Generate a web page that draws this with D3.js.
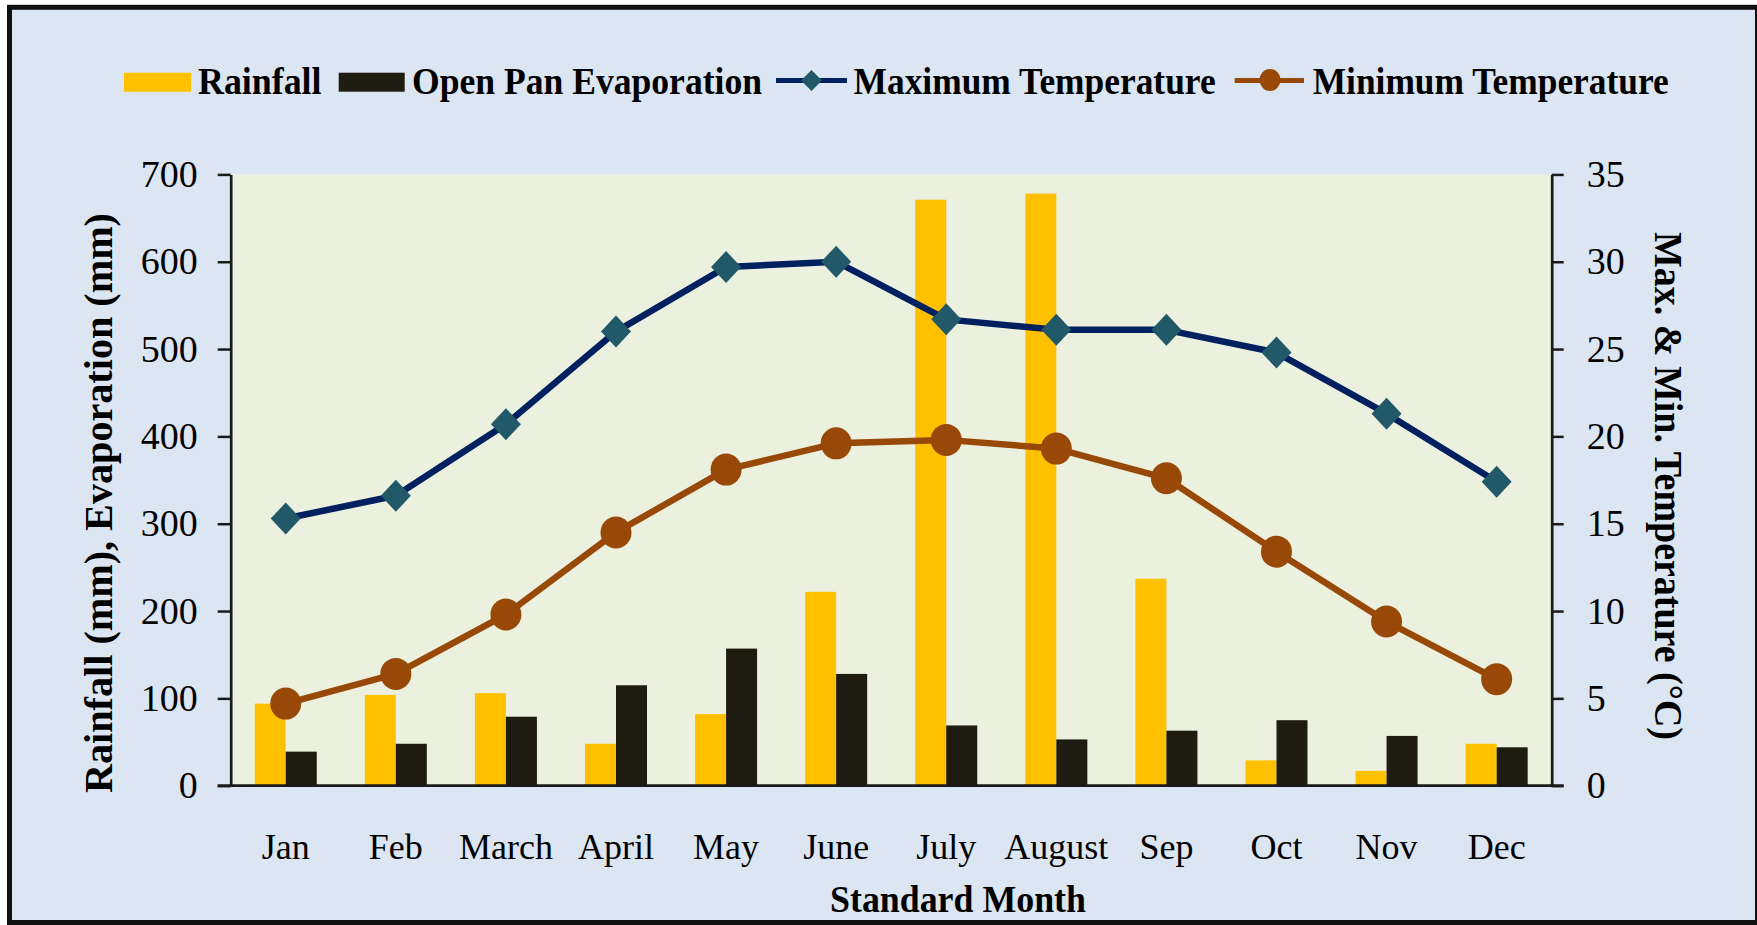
<!DOCTYPE html>
<html>
<head>
<meta charset="utf-8">
<script src="https://cdn.jsdelivr.net/npm/d3@7"></script>
<style>
  html, body { margin: 0; padding: 0; background: #ffffff; }
  svg text { font-family: "Liberation Serif", "Times New Roman", serif; fill: #000; }
</style>
</head>
<body>
<div id="chart"></div>
<script>
// data
var months      = ["Jan", "Feb", "March", "April", "May", "June", "July", "August", "Sep", "Oct", "Nov", "Dec"];
var rainfall    = [94, 104, 106, 48, 82, 222, 671, 678, 237, 29, 17, 48];
var evaporation = [39, 48, 79, 115, 157, 128, 69, 53, 63, 75, 57, 44];
var maxTemp     = [15.3, 16.6, 20.7, 26.0, 29.7, 30.0, 26.7, 26.1, 26.1, 24.8, 21.3, 17.4];
var minTemp     = [4.7, 6.4, 9.8, 14.5, 18.1, 19.6, 19.8, 19.3, 17.6, 13.4, 9.4, 6.1];
var leftTicks   = [0, 100, 200, 300, 400, 500, 600, 700];
var rightTicks  = [0, 5, 10, 15, 20, 25, 30, 35];
var seriesNames = ["Rainfall", "Open Pan Evaporation", "Maximum Temperature", "Minimum Temperature"];

var W = 1757, H = 925;
var plot = {left: 230.7, right: 1551.7, top: 174.4, bottom: 785.7};
var colors = {rain: "#ffc000", evap: "#1e1b11", maxLine: "#002060", maxMark: "#215968", minLine: "#984807"};

var svg = d3.select("#chart").append("svg")
    .attr("width", W)
    .attr("height", H);

// outer frame
svg.append("rect")
    .attr("x", 9.5).attr("y", 7.3)
    .attr("width", 1748).attr("height", 915.2)
    .attr("fill", "#dce6f2")
    .attr("stroke", "#111111")
    .attr("stroke-width", 5);

svg.append("rect")
    .attr("x", plot.left).attr("y", plot.top)
    .attr("width", plot.right - plot.left)
    .attr("height", plot.bottom - plot.top)
    .attr("fill", "#ebf1de");

var x = d3.scaleBand().domain(months).range([plot.left, plot.right]);
var groupW = x.bandwidth() * 0.5633;
var x1 = d3.scaleBand().domain(["rain", "evap"])
    .range([(x.bandwidth() - groupW) / 2, (x.bandwidth() + groupW) / 2]);
var yL = d3.scaleLinear().domain([0, 700]).range([plot.bottom, plot.top]);
var yR = d3.scaleLinear().domain([0, 35]).range([plot.bottom, plot.top]);

// bars
var bars = svg.append("g");
bars.selectAll(".rain")
    .data(rainfall)
    .enter().append("rect")
    .attr("x", function(d, i) { return x(months[i]) + x1("rain"); })
    .attr("y", function(d) { return yL(d); })
    .attr("width", x1.bandwidth())
    .attr("height", function(d) { return yL(0) - yL(d); })
    .attr("fill", colors.rain);
bars.selectAll(".evap")
    .data(evaporation)
    .enter().append("rect")
    .attr("x", function(d, i) { return x(months[i]) + x1("evap"); })
    .attr("y", function(d) { return yL(d); })
    .attr("width", x1.bandwidth())
    .attr("height", function(d) { return yL(0) - yL(d); })
    .attr("fill", colors.evap);

// axes
function styleAxis(g, size) {
    g.select(".domain").attr("stroke", "#1a1a1a").attr("stroke-width", 2.7);
    g.selectAll(".tick line").attr("stroke", "#1a1a1a").attr("stroke-width", 2.5);
    g.selectAll(".tick text")
        .style("font-family", "'Liberation Serif', 'Times New Roman', serif")
        .style("font-size", size + "px")
        .attr("fill", "#000");
}

svg.append("g")
    .attr("transform", "translate(" + plot.left + ",0)")
    .call(d3.axisLeft(yL).tickValues(leftTicks).tickSize(13).tickSizeOuter(0).tickPadding(20))
    .call(styleAxis, 38);

svg.append("g")
    .attr("transform", "translate(" + plot.right + ",0)")
    .call(d3.axisRight(yR).tickValues(rightTicks).tickSize(12).tickSizeOuter(0).tickPadding(23))
    .call(styleAxis, 38);

// category axis line
svg.append("line")
    .attr("x1", plot.left - 13).attr("x2", plot.right + 12)
    .attr("y1", yL(0)).attr("y2", yL(0))
    .attr("stroke", "#1a1a1a")
    .attr("stroke-width", 2.7);

svg.append("g").selectAll("text")
    .data(months)
    .enter().append("text")
    .attr("x", function(d) { return x(d) + x.bandwidth() / 2; })
    .attr("y", 859)
    .attr("text-anchor", "middle")
    .style("font-size", "36px")
    .text(function(d) { return d; });

// temperature lines
var cx = function(d, i) { return x(months[i]) + x.bandwidth() / 2; };
var lineT = d3.line().x(cx).y(function(d) { return yR(d); });

svg.append("path")
    .datum(maxTemp)
    .attr("d", lineT)
    .attr("fill", "none")
    .attr("stroke", colors.maxLine)
    .attr("stroke-width", 6.5)
    .attr("stroke-linejoin", "round");
svg.append("path")
    .datum(minTemp)
    .attr("d", lineT)
    .attr("fill", "none")
    .attr("stroke", colors.minLine)
    .attr("stroke-width", 6.5)
    .attr("stroke-linejoin", "round");

var diamond = function(w, h) {
    return "M0," + (-h) + "L" + w + ",0L0," + h + "L" + (-w) + ",0Z";
};

svg.append("g").selectAll("path")
    .data(maxTemp)
    .enter().append("path")
    .attr("d", diamond(15, 16))
    .attr("transform", function(d, i) { return "translate(" + cx(d, i) + "," + yR(d) + ")"; })
    .attr("fill", colors.maxMark);

svg.append("g").selectAll("ellipse")
    .data(minTemp)
    .enter().append("ellipse")
    .attr("cx", cx)
    .attr("cy", function(d) { return yR(d); })
    .attr("rx", 15.5).attr("ry", 16)
    .attr("fill", colors.minLine);

// axis titles
svg.append("text")
    .attr("transform", "translate(112,503) rotate(-90)")
    .attr("text-anchor", "middle")
    .attr("textLength", 580)
    .attr("lengthAdjust", "spacingAndGlyphs")
    .style("font-size", "40px")
    .style("font-weight", "bold")
    .text("Rainfall (mm), Evaporation (mm)");

svg.append("text")
    .attr("transform", "translate(1655,486) rotate(90)")
    .attr("text-anchor", "middle")
    .attr("textLength", 508)
    .attr("lengthAdjust", "spacingAndGlyphs")
    .style("font-size", "39px")
    .style("font-weight", "bold")
    .text("Max. & Min. Temperature (°C)");

svg.append("text")
    .attr("x", 958).attr("y", 912)
    .attr("text-anchor", "middle")
    .attr("textLength", 256)
    .attr("lengthAdjust", "spacingAndGlyphs")
    .style("font-size", "38px")
    .style("font-weight", "bold")
    .text("Standard Month");

// legend
var legend = svg.append("g");
var legendText = [
    {x: 198, len: 123.5},
    {x: 412, len: 350},
    {x: 853.6, len: 362},
    {x: 1312.7, len: 356}
];
legend.append("rect").attr("x", 124).attr("y", 72.7).attr("width", 67).attr("height", 19).attr("fill", colors.rain);
legend.append("rect").attr("x", 338.7).attr("y", 72.7).attr("width", 66).attr("height", 19).attr("fill", colors.evap);
legend.append("line").attr("x1", 776).attr("x2", 847).attr("y1", 80.5).attr("y2", 80.5)
    .attr("stroke", colors.maxLine).attr("stroke-width", 5);
legend.append("path").attr("d", diamond(10.5, 10.5)).attr("transform", "translate(811.5,80.5)").attr("fill", colors.maxMark);
legend.append("line").attr("x1", 1234.7).attr("x2", 1304).attr("y1", 80.5).attr("y2", 80.5)
    .attr("stroke", colors.minLine).attr("stroke-width", 5);
legend.append("ellipse").attr("cx", 1270).attr("cy", 80).attr("rx", 10.5).attr("ry", 11).attr("fill", colors.minLine);

legend.selectAll("text")
    .data(seriesNames)
    .enter().append("text")
    .attr("x", function(d, i) { return legendText[i].x; })
    .attr("y", 94)
    .attr("textLength", function(d, i) { return legendText[i].len; })
    .attr("lengthAdjust", "spacingAndGlyphs")
    .style("font-size", "38px")
    .style("font-weight", "bold")
    .text(function(d) { return d; });
</script>
</body>
</html>
